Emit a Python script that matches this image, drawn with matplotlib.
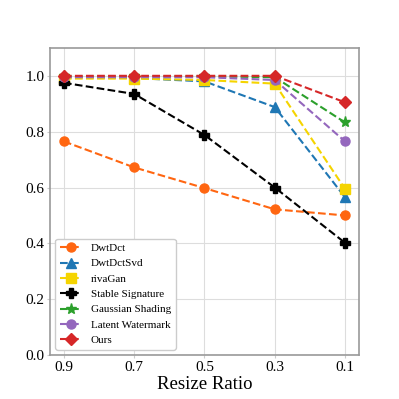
import numpy as np
import matplotlib.pyplot as plt

plt.rcParams['font.family'] = ['Liberation Serif', 'DejaVu Serif']

ratios = ['0.9', '0.7', '0.5', '0.3', '0.1']
dwtdct = [0.765, 0.672, 0.598, 0.522, 0.500]
dwtdctsvd = [0.995, 0.992, 0.980, 0.888, 0.565]
rivagan = [0.990, 0.990, 0.985, 0.972, 0.595]
stable_sig = [0.975, 0.935, 0.788, 0.600, 0.402]
gaussian = [0.998, 0.998, 0.998, 0.995, 0.833]
latent = [0.995, 0.995, 0.995, 0.985, 0.765]
ours = [1.000, 1.000, 1.000, 1.000, 0.905]

series = [
    ('DwtDct', dwtdct, '#ff6611', 'o', 6.5),
    ('DwtDctSvd', dwtdctsvd, '#1f77b4', '^', 7),
    ('rivaGan', rivagan, '#f5d400', 's', 6.5),
    ('Stable Signature', stable_sig, 'black', 'P', 7),
    ('Gaussian Shading', gaussian, '#2ca02c', '*', 8),
    ('Latent Watermark', latent, '#9467bd', 'o', 6.5),
    ('Ours', ours, '#d62728', 'D', 6.5),
]

fig, ax = plt.subplots(figsize=(3.99, 3.99), dpi=100)
x = np.arange(len(ratios))
for name, vals, color, marker, ms in series:
    ax.plot(x, vals, linestyle='--', color=color, marker=marker,
            markersize=ms, linewidth=1.5, label=name)

ax.set_xticks(x)
ax.set_xticklabels(ratios)
ax.set_ylim(0, 1.1)
ax.set_yticks([0.0, 0.2, 0.4, 0.6, 0.8, 1.0])
ax.tick_params(labelsize=11, length=2, pad=2, color='#cccccc')
ax.set_xlabel('Resize Ratio', fontsize=13.5, labelpad=2)
ax.grid(True, color='#dddddd', linewidth=0.8)
for s in ax.spines.values():
    s.set_color('#999999')
    s.set_linewidth(1.2)
ax.legend(loc='lower left', fontsize=8, framealpha=1, edgecolor='#cccccc')

fig.savefig('out.png', dpi=100)
